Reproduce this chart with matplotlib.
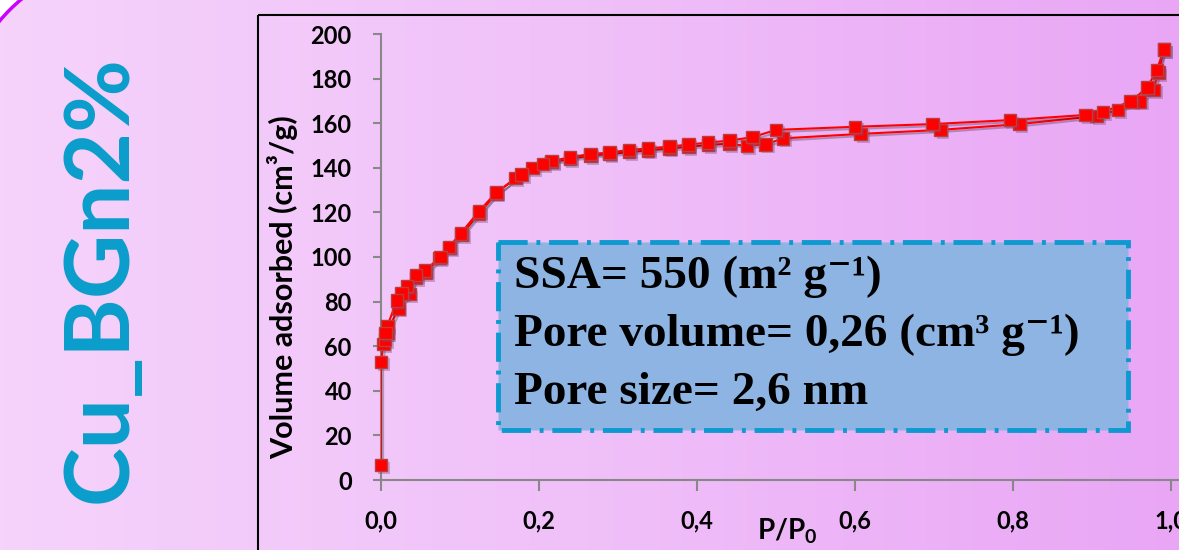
import matplotlib
matplotlib.use('Agg')
import matplotlib.pyplot as plt
import matplotlib.patheffects as pe
from matplotlib.patches import Rectangle, Arc, Polygon
from matplotlib.colors import LinearSegmentedColormap
import numpy as np

W, H = 1179, 550

# N2 isotherm
ads_p = [0.0, 0.0, 0.003, 0.005, 0.008, 0.022, 0.036, 0.044, 0.057, 0.074, 0.087,
         0.102, 0.124, 0.146, 0.170, 0.192, 0.216, 0.239, 0.265, 0.289, 0.314,
         0.338, 0.365, 0.389, 0.414, 0.441, 0.463, 0.487, 0.509, 0.607, 0.708,
         0.808, 0.906, 0.933, 0.961, 0.978, 0.984, 0.991]
ads_v = [6.7, 53, 61, 63, 66, 77, 83.4, 90.5, 93, 99.5, 104, 110, 119.5, 128.5,
         135.5, 140, 142.5, 144, 145.5, 146.2, 147, 147.8, 148.7, 149.5, 150.2,
         150.8, 149.8, 150.5, 153.2, 155.2, 157, 159.6, 163.2, 166, 169.8, 175,
         182.7, 193]

des_p = [0.991, 0.982, 0.970, 0.949, 0.914, 0.892, 0.796, 0.698, 0.600, 0.500,
         0.470, 0.441, 0.414, 0.389, 0.365, 0.338, 0.314, 0.289, 0.265, 0.239,
         0.216, 0.205, 0.178, 0.146, 0.124, 0.101, 0.086, 0.075, 0.056, 0.044,
         0.033, 0.026, 0.020, 0.008, 0.006]
des_v = [193, 183.9, 176, 169.8, 165, 163.7, 161.4, 159.6, 158.4, 157, 153.7,
         152.2, 151.3, 150.4, 149.5, 148.7, 148, 146.8, 146.2, 144.7, 143, 141.7,
         137, 129, 120.5, 110.6, 104.5, 100, 94, 92, 87, 83.7, 80.4, 69, 66]

x_ticks = [0.0, 0.2, 0.4, 0.6, 0.8, 1.0]
x_ticklabels = ['0,0', '0,2', '0,4', '0,6', '0,8', '1,0']
y_ticks = [0, 20, 40, 60, 80, 100, 120, 140, 160, 180, 200]

title = 'Cu_BGn2%'
info_lines = ['SSA= 550 (m² g⁻¹)', 'Pore volume= 0,26 (cm³ g⁻¹)', 'Pore size= 2,6 nm']

plt.rcParams['mathtext.fontset'] = 'custom'
plt.rcParams['mathtext.rm'] = 'Lato:bold'
plt.rcParams['mathtext.it'] = 'Lato:bold'
plt.rcParams['mathtext.bf'] = 'Lato:bold'


def fx(px):
    return px / W


def fy(py):
    return 1 - py / H


fig = plt.figure(figsize=(W / 100, H / 100), dpi=100)

# background, in pixel coordinates
bg = fig.add_axes([0, 0, 1, 1], zorder=-10)
cmap = LinearSegmentedColormap.from_list('bg', ['#f5d3fb', '#f0c0f9', '#e9a6f5'])
bg.imshow(np.linspace(0, 1, 256).reshape(1, -1), aspect='auto', cmap=cmap,
          extent=[0, W, H, 0])
bg.set_xlim(0, W)
bg.set_ylim(H, 0)
bg.set_axis_off()

# rounded slide corner
cx, cy, r = 130, 130, 170
ang = np.radians(np.linspace(180, 270, 60))
corner = [(cx + r * np.cos(a), cy + r * np.sin(a)) for a in ang] + [(0, 0)]
bg.add_patch(Polygon(corner, closed=True, fc='white', ec='none'))
bg.add_patch(Arc((cx, cy), 2 * r, 2 * r, theta1=180, theta2=270, color='#cc00ff', lw=2.5))

# chart frame
bg.add_patch(Rectangle((258, 15), 2000, 2000, fill=False, ec='black', lw=1.5))

# info box
bg.add_patch(Rectangle((498, 242), 630, 188, fc='#8db4e2', ec='#0e9ad0', lw=3.5,
                       ls=(0, (6, 1.8, 0.8, 1.8))))
for i, line in enumerate(info_lines):
    bg.text(514, 277 + i * 58, line, ha='left', va='center', fontsize=34,
            fontweight='bold', family=['Liberation Serif', 'DejaVu Serif'], color='black')

fig.text(fx(101), fy(279), title, rotation=90, color='#0a9dcb', fontsize=64,
         fontweight='bold', family='Lato', ha='center', va='center')

ax = fig.add_axes([381 / W, 1 - 480 / H, (1179 - 381) / W, (480 - 34) / H])
ax.patch.set_alpha(0)
ax.set_xlim(0, 798 / 790)
ax.set_ylim(0, 200)

for p, v in [(ads_p, ads_v), (des_p, des_v)]:
    ax.plot(p, v, color='#ff0000', lw=1.5, zorder=3,
            path_effects=[pe.SimpleLineShadow(offset=(1.5, -1.5), alpha=0.25), pe.Normal()])
    ax.plot(p, v, ls='none', marker='s', ms=9, mfc='#ff0000', mec='#b84040', mew=1,
            zorder=4, clip_on=False,
            path_effects=[pe.SimplePatchShadow(offset=(2, -2), shadow_rgbFace='#7a4a80', alpha=0.35),
                          pe.Normal()])

for s in ['top', 'right']:
    ax.spines[s].set_visible(False)
for s in ['left', 'bottom']:
    ax.spines[s].set_color('#888888')
    ax.spines[s].set_linewidth(1.5)

ax.set_xticks(x_ticks)
ax.set_xticklabels(x_ticklabels)
ax.set_yticks(y_ticks)
ax.tick_params(axis='y', direction='out', length=6, width=1.5, color='#888888', pad=15)
ax.tick_params(axis='x', direction='out', length=8, width=1.5, color='#888888', pad=13)
for lab in ax.get_xticklabels() + ax.get_yticklabels():
    lab.set_fontweight('bold')
    lab.set_fontsize(17)
    lab.set_family('Lato')

fig.text(fx(283), fy(287), 'Volume adsorbed (cm³/g)', rotation=90, ha='center',
         va='center', fontsize=22, fontweight='bold', family='Lato')
fig.text(fx(787), fy(531), 'P/P$_0$', ha='center', va='center', fontsize=20,
         fontweight='bold', family='Lato')

fig.savefig('out.png', dpi=100)
